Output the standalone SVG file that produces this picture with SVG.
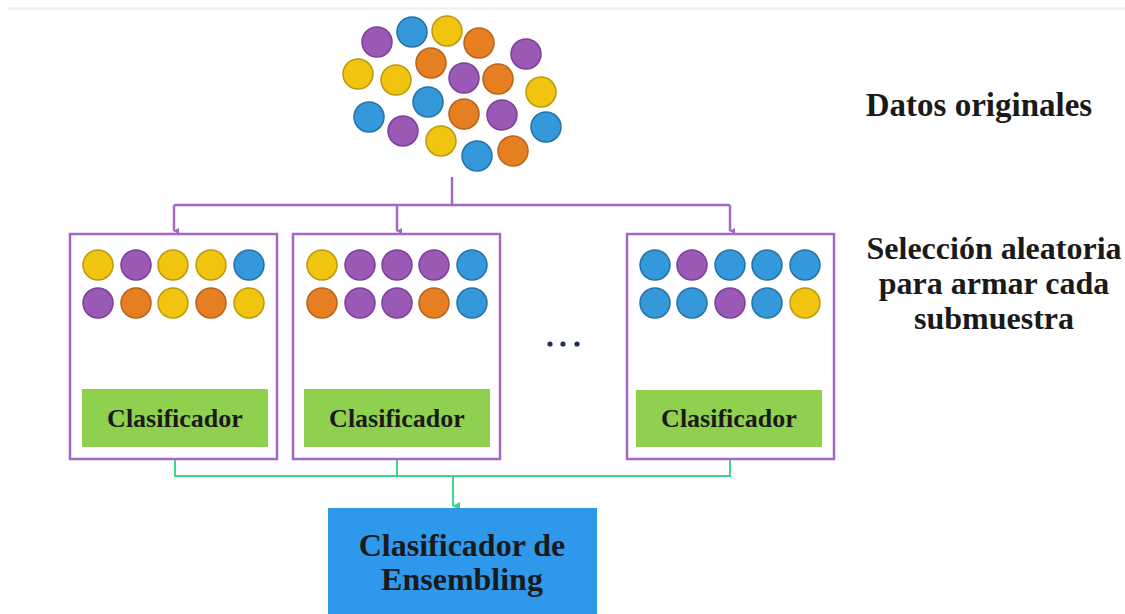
<svg xmlns="http://www.w3.org/2000/svg" width="1125" height="614" viewBox="0 0 1125 614">
<defs>
<style>
.p{fill:#9b59b6;stroke:#7d3f99;stroke-width:1.5}
.b{fill:#3498db;stroke:#2472a8;stroke-width:1.5}
.y{fill:#f1c40f;stroke:#bb9a0d;stroke-width:1.5}
.o{fill:#e67e22;stroke:#b8621a;stroke-width:1.5}
.box{fill:#fff;stroke:#a569c4;stroke-width:2.5}
.green{fill:#8fd14f}
.lbl{font-family:"Liberation Serif","Times New Roman",serif;font-weight:bold;fill:#1a1a1a;text-anchor:middle}
.cls{font-size:26px}
.pl{fill:none;stroke:#a569c4;stroke-width:2.5}
.gl{fill:none;stroke:#3dd68c;stroke-width:2}
</style>
<marker id="ap" markerWidth="8" markerHeight="8" refX="4" refY="6" orient="auto" markerUnits="userSpaceOnUse"><path d="M1,1 L7,1 L4,7 Z" fill="#a569c4"/></marker>
<marker id="ag" markerWidth="10" markerHeight="10" refX="5" refY="8" orient="auto" markerUnits="userSpaceOnUse"><path d="M1,1 L9,1 L5,9 Z" fill="#3dd68c"/></marker>
</defs>
<rect width="1125" height="614" fill="#fff"/>
<line x1="8" y1="8.5" x2="1125" y2="8.5" stroke="#eeeeee" stroke-width="2"/>

<g id="datos-originales">
<circle class="p" cx="377" cy="42" r="15"/>
<circle class="b" cx="412" cy="32" r="15"/>
<circle class="y" cx="447" cy="31" r="15"/>
<circle class="o" cx="479" cy="43" r="15"/>
<circle class="p" cx="526" cy="54" r="15"/>
<circle class="y" cx="358" cy="74" r="15"/>
<circle class="y" cx="396" cy="80" r="15"/>
<circle class="o" cx="431" cy="63" r="15"/>
<circle class="p" cx="464" cy="78" r="15"/>
<circle class="o" cx="498" cy="79" r="15"/>
<circle class="y" cx="541" cy="92" r="15"/>
<circle class="b" cx="369" cy="117" r="15"/>
<circle class="b" cx="428" cy="102" r="15"/>
<circle class="o" cx="464" cy="114" r="15"/>
<circle class="p" cx="502" cy="115" r="15"/>
<circle class="b" cx="546" cy="127" r="15"/>
<circle class="p" cx="403" cy="131" r="15"/>
<circle class="y" cx="441" cy="141" r="15"/>
<circle class="b" cx="477" cy="156" r="15"/>
<circle class="o" cx="513" cy="151" r="15"/>
</g>

<g id="label-datos"><text class="lbl" x="979" y="116" font-size="33">Datos originales</text></g>
<g id="label-seleccion">
<text class="lbl" x="994" y="259" font-size="32">Selección aleatoria</text>
<text class="lbl" x="994" y="294" font-size="32">para armar cada</text>
<text class="lbl" x="994" y="329" font-size="32">submuestra</text>
</g>

<g id="connectors">
<path class="pl" d="M452,177 V205"/>
<path class="pl" d="M174,205 H730"/>
<path class="pl" d="M174,205 V231" marker-end="url(#ap)"/>
<path class="pl" d="M397,205 V231" marker-end="url(#ap)"/>
<path class="pl" d="M730,205 V231" marker-end="url(#ap)"/>
<path class="gl" d="M175,447 V476 H730 V447"/>
<path class="gl" d="M397,447 V476"/>
<path class="gl" d="M453,476 V506" marker-end="url(#ag)"/>
</g>

<g id="submuestra-1">
<rect class="box" x="70" y="234" width="207" height="225"/>
<circle class="y" cx="98" cy="265" r="15"/><circle class="p" cx="136" cy="265" r="15"/><circle class="y" cx="173" cy="265" r="15"/><circle class="y" cx="211" cy="265" r="15"/><circle class="b" cx="249" cy="265" r="15"/>
<circle class="p" cx="98" cy="303" r="15"/><circle class="o" cx="136" cy="303" r="15"/><circle class="y" cx="173" cy="303" r="15"/><circle class="o" cx="211" cy="303" r="15"/><circle class="y" cx="249" cy="303" r="15"/>
<rect class="green" x="82" y="389" width="186" height="58"/>
<text class="lbl cls" x="175" y="427">Clasificador</text>
</g>

<g id="submuestra-2">
<rect class="box" x="293" y="234" width="207" height="225"/>
<circle class="y" cx="322" cy="265" r="15"/><circle class="p" cx="360" cy="265" r="15"/><circle class="p" cx="397" cy="265" r="15"/><circle class="p" cx="434" cy="265" r="15"/><circle class="b" cx="472" cy="265" r="15"/>
<circle class="o" cx="322" cy="303" r="15"/><circle class="p" cx="360" cy="303" r="15"/><circle class="p" cx="397" cy="303" r="15"/><circle class="o" cx="434" cy="303" r="15"/><circle class="b" cx="472" cy="303" r="15"/>
<rect class="green" x="304" y="389" width="186" height="58"/>
<text class="lbl cls" x="397" y="427">Clasificador</text>
</g>

<g id="ellipsis">
<circle cx="550" cy="344" r="2.6" fill="#1f3350"/>
<circle cx="563" cy="344" r="2.6" fill="#1f3350"/>
<circle cx="577" cy="344" r="2.6" fill="#1f3350"/>
</g>

<g id="submuestra-n">
<rect class="box" x="627" y="234" width="207" height="225"/>
<circle class="b" cx="655" cy="265" r="15"/><circle class="p" cx="692" cy="265" r="15"/><circle class="b" cx="730" cy="265" r="15"/><circle class="b" cx="767" cy="265" r="15"/><circle class="b" cx="805" cy="265" r="15"/>
<circle class="b" cx="655" cy="303" r="15"/><circle class="b" cx="692" cy="303" r="15"/><circle class="p" cx="730" cy="303" r="15"/><circle class="b" cx="767" cy="303" r="15"/><circle class="y" cx="805" cy="303" r="15"/>
<rect class="green" x="636" y="390" width="186" height="57"/>
<text class="lbl cls" x="729" y="427">Clasificador</text>
</g>

<g id="ensembling">
<rect x="328" y="508" width="269" height="106" fill="#2e99ea"/>
<text class="lbl" x="462" y="556" font-size="32">Clasificador de</text>
<text class="lbl" x="462" y="590" font-size="32">Ensembling</text>
</g>
</svg>
